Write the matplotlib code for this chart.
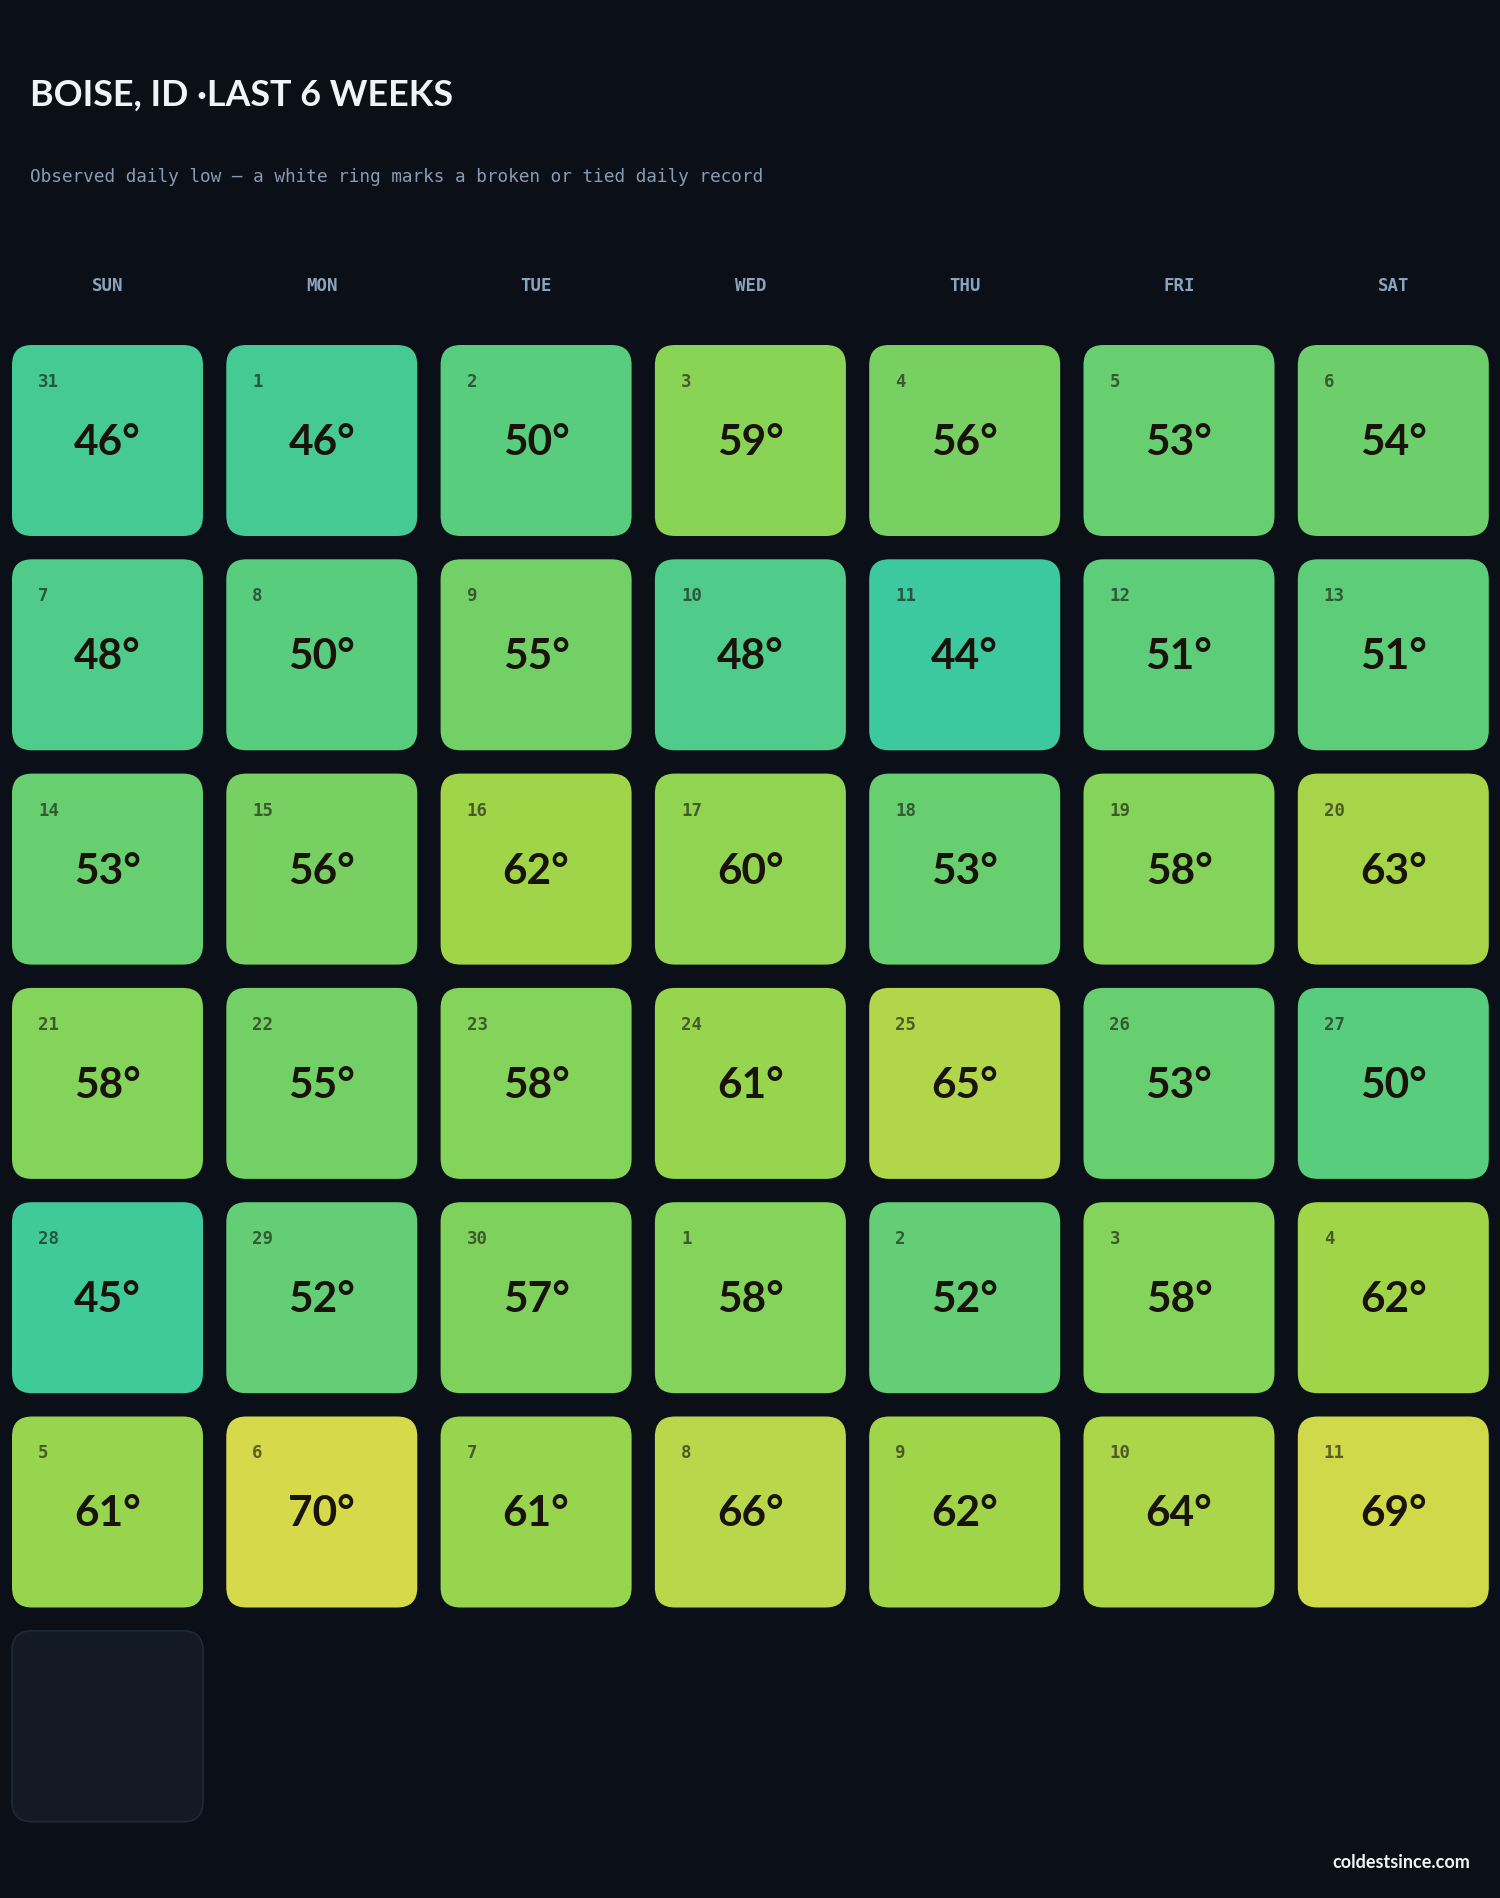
import matplotlib.pyplot as plt
import numpy as np
from matplotlib.patches import FancyBboxPatch
from matplotlib.colors import LinearSegmentedColormap, Normalize

title = "BOISE, ID \u00b7LAST 6 WEEKS"
subtitle = "Observed daily low \u2014 a white ring marks a broken or tied daily record"
footer = "coldestsince.com"

weekdays = ["SUN", "MON", "TUE", "WED", "THU", "FRI", "SAT"]

day_numbers = [
    31, 1, 2, 3, 4, 5, 6,
    7, 8, 9, 10, 11, 12, 13,
    14, 15, 16, 17, 18, 19, 20,
    21, 22, 23, 24, 25, 26, 27,
    28, 29, 30, 1, 2, 3, 4,
    5, 6, 7, 8, 9, 10, 11,
    12,
]

# observed daily lows, None = no data yet
lows = [
    46, 46, 50, 59, 56, 53, 54,
    48, 50, 55, 48, 44, 51, 51,
    53, 56, 62, 60, 53, 58, 63,
    58, 55, 58, 61, 65, 53, 50,
    45, 52, 57, 58, 52, 58, 62,
    61, 70, 61, 66, 62, 64, 69,
    None,
]

# --------------------------------------------------
# colours / layout
# --------------------------------------------------
BG = "#0b0f17"
cmap = LinearSegmentedColormap.from_list(
    "lows",
    [
        (0.00, "#3cc99f"),
        (0.23, "#58cd7e"),
        (0.46, "#78d062"),
        (0.58, "#8ad455"),
        (0.69, "#9fd54a"),
        (0.81, "#b1d64a"),
        (1.00, "#d6da4a"),
    ],
)
norm = Normalize(44, 70)

W, H = 1500, 1899
x_start, y_start = 12, 346
pitch, size = 214.3, 191

fig = plt.figure(figsize=(W / 100, H / 100), dpi=100, facecolor=BG)
ax = fig.add_axes([0, 0, 1, 1])
ax.set_xlim(0, W)
ax.set_ylim(H, 0)
ax.axis("off")
ax.set_facecolor(BG)

ax.text(30, 95, title, fontsize=25.8, fontweight="bold", family="Lato",
        color="#f0f4fa", ha="left", va="center")
ax.text(30, 177, subtitle, fontsize=12.8, family="DejaVu Sans Mono",
        color="#8a9bb0", ha="left", va="center")

for i, wd in enumerate(weekdays):
    ax.text(x_start + i * pitch + size / 2, 286, wd, fontsize=12.5,
            family="DejaVu Sans Mono", fontweight="bold", color="#8ca3bd",
            ha="center", va="center")

for k, (day, low) in enumerate(zip(day_numbers, lows)):
    row, col = divmod(k, 7)
    x0 = x_start + col * pitch
    y0 = y_start + row * pitch
    if low is None:
        box = FancyBboxPatch((x0, y0), size, size,
                             boxstyle="round,pad=0,rounding_size=20",
                             facecolor="#131a24", edgecolor="#1e2a38",
                             linewidth=1.2)
        ax.add_patch(box)
        continue
    box = FancyBboxPatch((x0, y0), size, size,
                         boxstyle="round,pad=0,rounding_size=20",
                         facecolor=cmap(norm(low)), edgecolor="none")
    ax.add_patch(box)
    ax.text(x0 + 26, y0 + 36, str(day), fontsize=12.5,
            family="DejaVu Sans Mono", fontweight="bold",
            color="#1a1a10", alpha=0.65, ha="left", va="center")
    ax.text(x0 + size / 2, y0 + 97, f"{low}\u00b0", fontsize=30.5,
            family="Lato", fontweight="bold", color="#1a130b",
            ha="center", va="center")

ax.text(1470, 1863, footer, fontsize=13, family="Lato", fontweight="bold",
        color="#f0f4fa", ha="right", va="center")

fig.savefig("out.png", dpi=100, facecolor=BG)
